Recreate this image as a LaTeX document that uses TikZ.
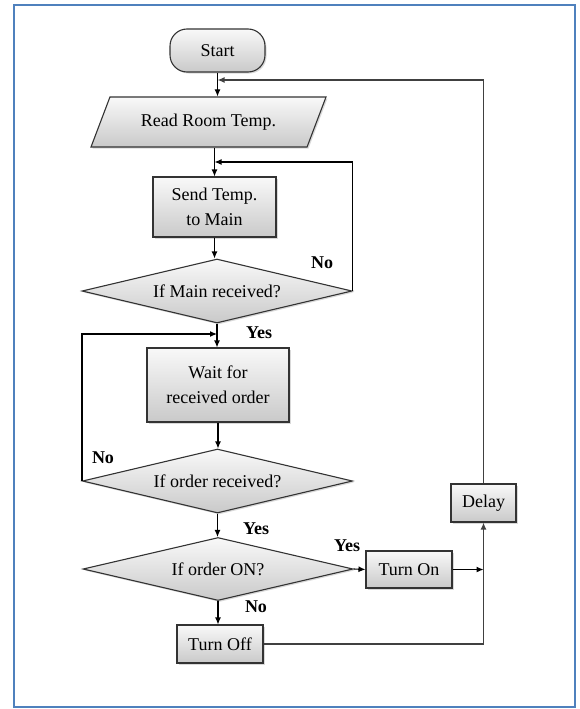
\documentclass[tikz,border=0pt]{standalone}
\usepackage{fontspec}
\setmainfont{Liberation Serif}
\usetikzlibrary{shapes.geometric,arrows.meta,shadows}
\definecolor{frameblue}{RGB}{79,129,189}
\begin{document}
\begin{tikzpicture}[x=1pt, y=-1pt, font=\fontsize{18}{25}\selectfont,
  blockbox/.style={draw=black!80, line width=1.1pt, top color=gray!5, bottom color=gray!42, drop shadow={shadow xshift=1.5pt, shadow yshift=-1.5pt, opacity=.3}, inner sep=2pt, align=center},
  decision/.style={blockbox, diamond, aspect=4.2, minimum width=270pt, minimum height=64pt, inner sep=0pt},
  flow/.style={draw=black, line width=1.1pt, -{Latex[length=7pt,width=6pt]}},
  loopline/.style={draw=black!75, line width=1.3pt},
  answer/.style={font=\fontsize{18}{20}\selectfont\bfseries}]
\useasboundingbox (0,0) rectangle (579,709);
\draw[frameblue, line width=2pt] (14,5) rectangle (575,707);
% blocks of the main column
\node[blockbox, minimum width=95pt, minimum height=43pt, rounded corners=17pt] (start) at (217.5,50.5) {Start};
\node[blockbox, trapezium, trapezium left angle=47, trapezium right angle=133, trapezium stretches body, minimum width=235pt, minimum height=50pt] (read) at (208.5,122) {Read Room Temp.};
\node[blockbox, minimum width=123pt, minimum height=60pt] (send) at (214.5,207) {Send Temp.\\to Main};
\node[decision] (mainq) at (217,291) {If Main received?};
\node[blockbox, minimum width=142pt, minimum height=74pt] (wait) at (218,385) {Wait for\\received order};
\node[decision] (orderq) at (217.5,481) {If order received?};
\node[decision, minimum height=63pt] (onq) at (218,569) {If order ON?};
\node[blockbox, minimum width=86pt, minimum height=37pt] (turnon) at (409,569.5) {Turn On};
\node[blockbox, minimum width=86pt, minimum height=38pt] (turnoff) at (220,644) {Turn Off};
\node[blockbox, minimum width=65pt, minimum height=38pt] (delay) at (483.5,503) {Delay};
% answers
\node[answer] (noa) at (322,263) {No};
\node[answer] (yesa) at (259,333) {Yes};
\node[answer] (nob) at (103,458) {No};
\node[answer] (yesb) at (256,529) {Yes};
\node[answer] (yesc) at (347,546) {Yes};
\node[answer] (noc) at (256,607) {No};
% connectors
\draw[flow] (start.south) -- (start.south |- read.north);
\draw[flow] (send.north |- read.south) -- (send.north);
\draw[flow] (send.south) -- (send.south |- mainq.north);
\draw[flow] (mainq.south) -- (mainq.south |- wait.north);
\draw[flow] (wait.south) -- (wait.south |- orderq.north);
\draw[flow] (orderq.south) -- (orderq.south |- onq.north);
\draw[flow] (onq.east) -- (turnon.west);
\draw[flow] (onq.south) -- (onq.south |- turnoff.north);
\draw[flow] (turnon.east) -- (turnon.east -| delay.south);
\draw[flow] (mainq.east) -- (mainq.east |- 0,162) -- (send.north |- 0,162);
\draw[flow] (orderq.west) -- (orderq.west |- 0,334) -- (mainq.south |- 0,334);
\draw[loopline, -{Latex[length=7pt,width=6pt]}] (turnoff.east) -- (turnoff.east -| delay.south) -- (delay.south);
\draw[loopline, -{Latex[length=7pt,width=6pt]}] (delay.north) -- (delay.north |- 0,80) -- (start.south |- 0,80);
\end{tikzpicture}
\end{document}
